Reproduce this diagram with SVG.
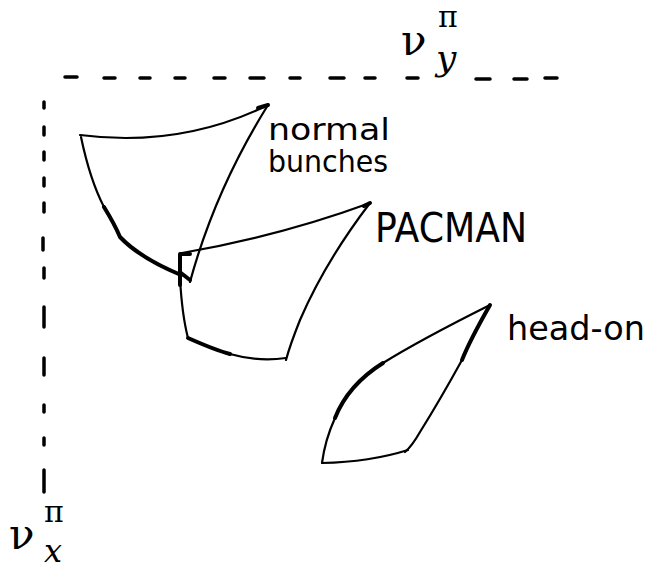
<svg xmlns="http://www.w3.org/2000/svg" width="652" height="571" viewBox="0 0 652 571">
<style>
.ink{fill:none;stroke:#000;stroke-linecap:round;stroke-linejoin:round}
.thin{stroke-width:2.2}
.thick{stroke-width:4}
.dash{fill:none;stroke:#000;stroke-width:3.5;stroke-linecap:round}
.lbl{font-family:"DejaVu Sans","Liberation Sans",sans-serif;fill:#000}
.math{font-family:"DejaVu Serif","Liberation Serif",serif;fill:#000}
</style>
<rect width="652" height="571" fill="#fff"/>
<g id="axes">
<path class="dash" d="M65 77h12M104 78h11M140 78h10M175 78h10M214 78h11M250 78h14M290 78h10M330 78h14M365 78h10M407 78h11M476 79h14M514 79h13M545 78h12"/>
<path class="dash" d="M44 102v6M44 127v8M44 152v8M44 178v8M44 203v9M43 238v12M44 268v10M44 307v20M44 358v17M44 405v7M44 438v7M44 470v22"/>
</g>
<g id="axis-y-label">
<text class="math" x="401" y="55" font-size="42">ν</text>
<text class="math" x="438" y="27" font-size="30">π</text>
<text class="math" x="436" y="70" font-size="36" font-style="italic">y</text>
</g>
<g id="axis-x-label">
<text class="math" x="9" y="549" font-size="42">ν</text>
<text class="math" x="44" y="522" font-size="30">π</text>
<text class="math" x="44" y="562" font-size="32" font-style="italic">x</text>
</g>
<g id="normal-bunches">
<path class="ink thin" d="M80 135Q180 148 268 105"/>
<path class="ink thick" d="M268 105L258 108"/>
<path class="ink thin" d="M81 137Q90 180 104 207"/>
<path class="ink thick" d="M104 207Q115 225 120 237Q140 258 181 275"/>
<path class="ink thin" d="M268 105Q215 190 190 282"/>
<path class="ink thick" d="M180 285V254H190"/>
<path class="ink thick" d="M181 273L190 280"/>
<text class="lbl" x="268" y="140" font-size="30" textLength="122" lengthAdjust="spacingAndGlyphs">normal</text>
<text class="lbl" x="268" y="172" font-size="30" textLength="120" lengthAdjust="spacingAndGlyphs">bunches</text>
</g>
<g id="pacman">
<path class="ink thin" d="M182 253Q280 236 370 203"/>
<path class="ink thick" d="M370 203L364 206"/>
<path class="ink thin" d="M370 203Q325 262 300 320Q290 345 286 360"/>
<path class="ink thin" d="M180 278Q182 315 188 338"/>
<path class="ink thick" d="M188 338Q215 350 230 354"/>
<path class="ink thin" d="M230 354Q258 362 286 358"/>
<text class="lbl" x="375" y="242" font-size="40" textLength="152" lengthAdjust="spacingAndGlyphs">PACMAN</text>
</g>
<g id="head-on">
<path class="ink thin" d="M490 305Q420 340 383 363"/>
<path class="ink thick" d="M383 363Q348 385 335 418"/>
<path class="ink thin" d="M335 418Q325 440 322 463"/>
<path class="ink thick" d="M490 305Q470 340 462 360"/>
<path class="ink thin" d="M462 360Q440 400 420 432Q412 446 405 452"/>
<path class="ink thin" d="M322 463Q370 462 408 450"/>
<text class="lbl" x="507" y="340" font-size="34" textLength="138" lengthAdjust="spacingAndGlyphs">head-on</text>
</g>
</svg>
